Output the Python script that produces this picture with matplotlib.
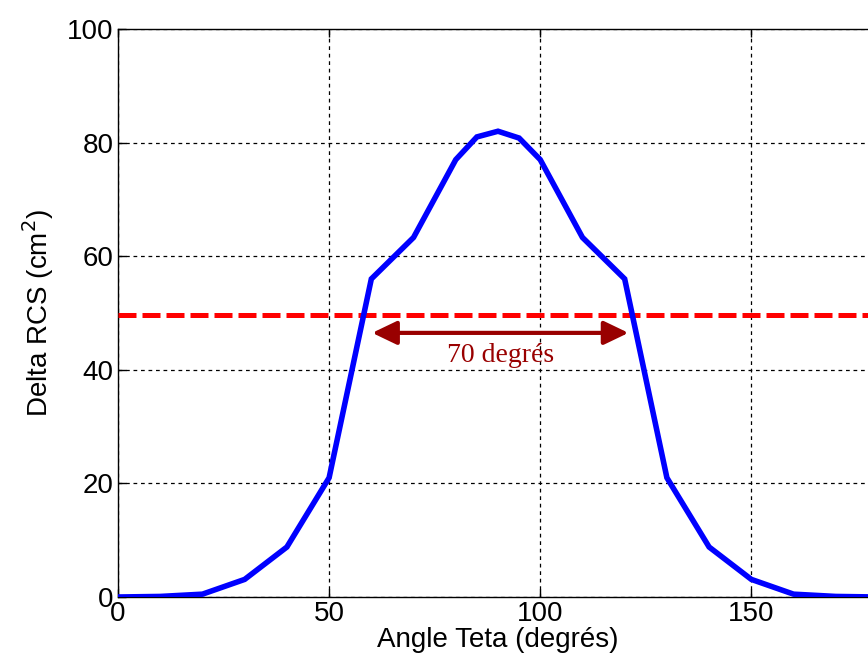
import matplotlib
matplotlib.use("Agg")
import matplotlib.pyplot as plt

# angle (degrees) and delta RCS (cm^2)
theta = [0, 10, 20, 30, 40, 50, 60, 70, 80, 85, 90, 95, 100, 110, 120, 130, 140, 150, 160, 170, 180]
rcs = [0, 0.1, 0.5, 3.1, 8.8, 21, 56, 63.3, 77, 81, 82, 80.8, 77, 63.3, 56, 21, 8.8, 3.1, 0.5, 0.1, 0]

threshold = 49.6
beam_start, beam_end = 60.2, 120.9
beam_y = 46.5
beam_label = "70 degrés"

xticks = [0, 50, 100, 150]
yticks = [0, 20, 40, 60, 80, 100]

plt.rcParams["font.family"] = ["Liberation Sans", "DejaVu Sans"]

fig = plt.figure(figsize=(8.68, 6.70), dpi=100)
# axes right edge runs past the canvas, like the cropped original
ax = fig.add_axes([118 / 868, 73 / 670, 760 / 868, 568 / 670])

ax.plot(theta, rcs, color="#0000ff", lw=4, solid_joinstyle="miter", zorder=4)
ax.axhline(threshold, color="#ff0000", lw=3.6, dashes=(3.6, 1.2), zorder=3)

ax.annotate("", xy=(beam_start, beam_y), xytext=(beam_end, beam_y),
            arrowprops=dict(arrowstyle="<|-|>,head_length=1.5,head_width=0.72",
                            color="#990000", lw=3, shrinkA=0, shrinkB=0),
            zorder=5)
ax.text((beam_start + beam_end) / 2, beam_y - 1.8, beam_label,
        ha="center", va="top", color="#990000", fontsize=20,
        family="Liberation Serif", zorder=5)

ax.set_xlim(0, 180)
ax.set_ylim(0, 100)
ax.set_xticks(xticks)
ax.set_yticks(yticks)
ax.tick_params(direction="in", length=6, width=1, labelsize=20,
               top=True, right=True, pad=3)
for s in ax.spines.values():
    s.set_linewidth(1)
ax.grid(True, color="black", lw=0.9, linestyle=(0, (3, 3)))
ax.set_axisbelow(True)

ax.set_xlabel("Angle Teta (degrés)", fontsize=20, labelpad=0)
ax.set_ylabel("Delta RCS (cm$^2$)", fontsize=20, labelpad=8)

plt.savefig("out.png", dpi=100, facecolor="white")
plt.close()
